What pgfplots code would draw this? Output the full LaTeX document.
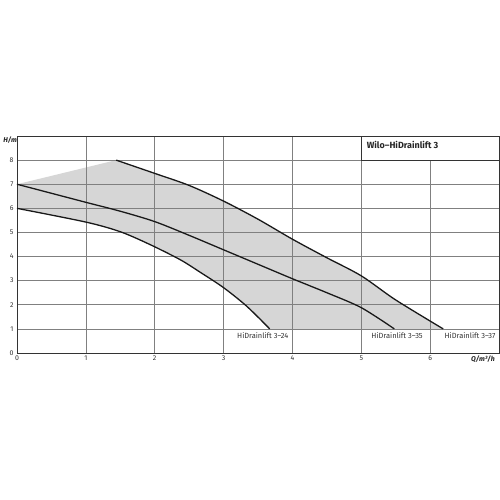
\documentclass[border=0pt]{standalone}
\usepackage{pgfplots}
\pgfplotsset{compat=1.18}
\usepackage{fontspec}
\setmainfont{Fira Sans}
\begin{document}
\begin{tikzpicture}
\begin{axis}[
  set layers,
  scale only axis, width=482bp, height=217bp,
  xmin=0, xmax=7, ymin=0, ymax=9,
  xtick={0,1,2,3,4,5,6}, ytick={0,1,2,3,4,5,6,7,8},
  grid=major, major grid style={black!50, line width=0.6pt},
  major tick length=0pt,
  axis line style={black!80, line width=0.9pt},
  tick label style={font=\fontsize{7}{8}\selectfont, text=black!80},
  xticklabel style={yshift=1pt},
  /pgf/number format/assume math mode=true,
  clip=false,
]
\addplot[on layer=axis background, fill=black!16, draw=none] coordinates {
 (0,7) (1.44,8) (2,7.45) (2.5,6.95) (3,6.3) (3.5,5.55) (4,4.72) (4.5,3.95) (5,3.2) (5.5,2.2) (6.19,1)
 (3.67,1) (3.34,1.93) (3,2.71) (2.66,3.35) (2.37,3.87) (1.93,4.5) (1.5,5.03) (1,5.43) (0,6)
} -- cycle;
% HiDrainlift 3-24
\addplot[black!90, line width=1.3pt, smooth] coordinates {
 (0,6) (1,5.43) (1.5,5.03) (1.93,4.5) (2.37,3.87) (2.66,3.35) (3,2.71) (3.34,1.93) (3.67,1)
};
% HiDrainlift 3-35
\addplot[black!90, line width=1.3pt, smooth] coordinates {
 (0,7) (1,6.25) (1.5,5.88) (2,5.45) (2.5,4.88) (3,4.28) (3.5,3.68) (4,3.08) (4.5,2.5) (5,1.88) (5.48,1)
};
% HiDrainlift 3-37
\addplot[black!90, line width=1.3pt, smooth] coordinates {
 (1.44,8) (2,7.45) (2.5,6.95) (3,6.3) (3.5,5.55) (4,4.72) (4.5,3.95) (5,3.2) (5.5,2.2) (6.19,1)
};
\filldraw[fill=white, draw=black!80, line width=0.6pt] (axis cs:5,8) rectangle (axis cs:7,9);
\node[anchor=west, font=\fontsize{9}{10}\selectfont\bfseries, text=black!85] at (axis cs:5.03,8.63) {Wilo--HiDrainlift 3};
\node[font=\fontsize{7.5}{8}\selectfont, text=black!80] at (axis cs:3.57,0.7) {HiDrainlift 3--24};
\node[font=\fontsize{7.5}{8}\selectfont, text=black!80] at (axis cs:5.52,0.7) {HiDrainlift 3--35};
\node[font=\fontsize{7.5}{8}\selectfont, text=black!80] at (axis cs:6.58,0.7) {HiDrainlift 3--37};
\node[anchor=west, font=\fontsize{7}{8}\selectfont\bfseries\itshape, text=black!85] at (axis cs:-0.25,8.84) {H/m};
\node[anchor=east, font=\fontsize{7}{8}\selectfont\bfseries\itshape, text=black!85] at (axis cs:6.99,-0.26) {Q/m³/h};
\end{axis}
\pgfresetboundingbox
\path (-17bp,-147bp) rectangle (483bp,353bp);
\end{tikzpicture}
\end{document}
